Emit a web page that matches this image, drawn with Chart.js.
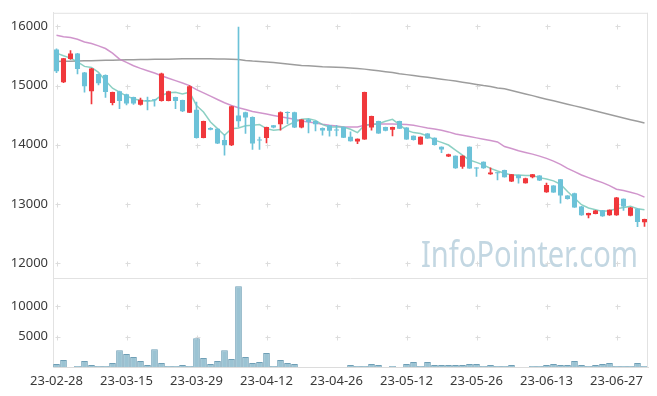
<!DOCTYPE html>
<html>
<head>
<meta charset="utf-8">
<script src="https://cdn.jsdelivr.net/npm/chart.js@4.4.0/dist/chart.umd.min.js"></script>
<style>
  html, body { margin: 0; padding: 0; background: #fff; }
  #wrap { width: 657px; height: 396px; }
</style>
</head>
<body>
<div id="wrap"><canvas id="stockChart"></canvas></div>
<script>
// trading days
const dates = [
  '23-02-28','23-03-02','23-03-03','23-03-06','23-03-07','23-03-08','23-03-09','23-03-10','23-03-13','23-03-14',
  '23-03-15','23-03-16','23-03-17','23-03-20','23-03-21','23-03-22','23-03-23','23-03-24','23-03-27','23-03-28',
  '23-03-29','23-03-30','23-03-31','23-04-03','23-04-04','23-04-05','23-04-06','23-04-07','23-04-10','23-04-11',
  '23-04-12','23-04-13','23-04-14','23-04-17','23-04-18','23-04-19','23-04-20','23-04-21','23-04-24','23-04-25',
  '23-04-26','23-04-27','23-04-28','23-05-02','23-05-03','23-05-04','23-05-08','23-05-09','23-05-10','23-05-11',
  '23-05-12','23-05-15','23-05-16','23-05-17','23-05-18','23-05-19','23-05-22','23-05-23','23-05-24','23-05-25',
  '23-05-26','23-05-30','23-05-31','23-06-01','23-06-02','23-06-05','23-06-07','23-06-08','23-06-09','23-06-12',
  '23-06-13','23-06-14','23-06-15','23-06-16','23-06-19','23-06-20','23-06-21','23-06-22','23-06-23','23-06-26',
  '23-06-27','23-06-28','23-06-29','23-06-30','23-07-03'
];

const openP = [
  15610,15055,15450,15540,15220,14905,15195,15180,14705,14905,
  14855,14805,14675,14750,14760,14740,14740,14805,14755,14540,
  14590,14115,14285,14270,14080,13990,14495,14550,14470,14075,
  14115,14330,14345,14550,14550,14290,14425,14400,14285,14330,
  14256,14300,14135,14055,14090,14290,14400,14300,14255,14400,
  14290,14150,14005,14190,14116,13965,13800,13814,13630,13965,
  13615,13713,13500,13530,13573,13377,13489,13350,13450,13478,
  13195,13310,13417,13142,13182,12958,12810,12830,12891,12810,
  12810,13086,12800,12919,12690
];
const highP = [
  15620,15460,15590,15545,15225,15290,15200,15180,14890,14905,
  14855,14805,14790,14805,14765,15210,14905,14805,14755,15000,
  14720,14400,14290,14270,14170,14655,15990,14550,14470,14130,
  14300,14330,14555,14555,14550,14425,14440,14400,14285,14330,
  14330,14300,14217,14100,14890,14485,14400,14300,14300,14400,
  14290,14150,14135,14190,14116,13965,13840,13814,13815,13965,
  13615,13713,13610,13530,13573,13500,13489,13435,13500,13478,
  13350,13310,13417,13142,13182,12958,12845,12890,12891,12900,
  13110,13086,12940,12919,12745
];
const lowP = [
  15220,15050,15440,15195,14890,14690,15010,14800,14675,14610,
  14675,14680,14670,14590,14650,14735,14740,14610,14560,14540,
  14110,14115,14250,14020,13825,13985,14300,14190,13920,13920,
  14030,14285,14245,14355,14290,14285,14200,14235,14160,14145,
  14150,14120,14060,14020,14088,14245,14190,14233,14150,14270,
  14088,14077,14004,14105,13993,13864,13797,13601,13600,13600,
  13465,13601,13500,13405,13450,13377,13349,13349,13440,13394,
  13193,13193,13014,13081,12941,12807,12765,12830,12790,12807,
  12807,12891,12796,12617,12620
];
const closeP = [
  15240,15460,15540,15280,14990,15290,15040,14890,14890,14740,
  14695,14695,14760,14740,14750,15205,14905,14740,14565,14990,
  14115,14400,14255,14020,13990,14650,14395,14460,14020,14070,
  14300,14290,14550,14535,14290,14425,14385,14345,14240,14235,
  14240,14120,14060,14100,14890,14485,14190,14235,14300,14270,
  14090,14080,14135,14105,13995,13920,13840,13601,13815,13600,
  13600,13601,13532,13517,13450,13500,13433,13435,13500,13394,
  13320,13193,13142,13081,12941,12807,12845,12890,12790,12900,
  13110,12958,12940,12695,12745
];

const volume = [
  490,1140,0,160,980,330,160,160,650,2770,
  2120,1630,980,330,2930,650,160,160,330,160,
  4720,1470,490,980,2770,1300,13250,1630,650,815,
  2280,160,1140,650,490,0,0,0,0,0,
  0,0,330,160,160,490,330,0,160,0,
  490,815,160,815,330,330,330,330,330,490,
  490,160,330,160,160,330,0,0,160,160,
  330,490,330,330,980,330,160,330,490,650,
  160,160,160,650,160
];

// moving averages
const ma5 = [
  15548,15503,15464,15402,15324,15307,15223,15083,14955,14888,
  14821,14776,14748,14737,14748,14832,14877,14888,14860,14888,
  14664,14552,14384,14272,14161,14272,14284,14322,14328,14340,
  14272,14244,14256,14328,14384,14429,14440,14412,14340,14300,
  14300,14300,14261,14205,14328,14340,14356,14396,14429,14340,
  14244,14205,14189,14149,14077,14040,13995,13909,13825,13741,
  13702,13657,13601,13556,13517,13489,13489,13478,13478,13444,
  13422,13389,13333,13210,13098,12986,12930,12902,12874,12885,
  12919,12941,12958,12919,12902
];
const ma20 = [
  15850,15827,15811,15783,15738,15710,15671,15626,15548,15447,
  15391,15335,15290,15251,15212,15167,15123,15083,15044,14999,
  14932,14877,14821,14765,14709,14664,14625,14597,14563,14541,
  14519,14496,14474,14451,14429,14401,14384,14368,14345,14328,
  14317,14300,14300,14300,14328,14345,14351,14351,14351,14345,
  14340,14328,14306,14284,14267,14244,14217,14183,14160,14138,
  14116,14093,14071,14048,13970,13937,13897,13869,13841,13808,
  13769,13724,13668,13601,13545,13489,13444,13400,13360,13310,
  13249,13226,13198,13165,13114
];
const ma60 = [
  15408,15410,15413,15415,15418,15420,15423,15426,15429,15432,
  15435,15437,15439,15441,15443,15445,15447,15450,15452,15455,
  15455,15455,15453,15450,15448,15445,15440,15425,15415,15408,
  15400,15390,15378,15365,15352,15340,15335,15328,15320,15315,
  15310,15305,15298,15290,15278,15265,15250,15235,15220,15200,
  15185,15170,15155,15140,15125,15108,15092,15076,15058,15040,
  15020,15000,14985,14960,14945,14915,14887,14858,14830,14800,
  14770,14742,14714,14686,14657,14628,14599,14570,14540,14510,
  14482,14453,14424,14396,14367
];

const priceTicks = [12000, 13000, 14000, 15000, 16000];
const volumeTicks = [5000, 10000];

const UP = '#f0383c';
const DOWN = '#6cc2d8';
const candleColors = closeP.map((c, i) => c >= openP[i] ? UP : DOWN);

// kleine Kreuze als Gitter, Rahmen und Wasserzeichen
const panelPlugin = {
    id: 'panel',
    beforeDatasetsDraw(chart) {
        const c = chart.ctx;
        const x = chart.scales.x, y = chart.scales.y, yv = chart.scales.yv;
        c.save();
        c.strokeStyle = '#dcdcdc';
        c.lineWidth = 1;
        const cross = (px, py) => {
            px = Math.round(px) + 0.5; py = Math.round(py) + 0.5;
            c.beginPath();
            c.moveTo(px - 2, py); c.lineTo(px + 3, py);
            c.moveTo(px, py - 2); c.lineTo(px, py + 3);
            c.stroke();
        };
        for (let i = 0; i < dates.length; i += 10) {
            const px = x.getPixelForValue(i);
            priceTicks.forEach(t => cross(px, y.getPixelForValue(t)));
            volumeTicks.forEach(t => cross(px, yv.getPixelForValue(t)));
        }
        // watermark
        c.font = '36px "Noto Sans"';
        c.fillStyle = '#c3d7e2';
        c.textBaseline = 'alphabetic';
        const txt = 'InfoPointer.com';
        const w = c.measureText(txt).width;
        c.translate(421, 267);
        c.scale(217 / w, 1);
        c.fillText(txt, 0, 0);
        c.restore();
    },
    afterDraw(chart) {
        const c = chart.ctx;
        const a = chart.chartArea;
        const yv = chart.scales.yv;
        c.save();
        c.strokeStyle = '#e2e2e2';
        c.lineWidth = 1;
        c.beginPath();
        c.moveTo(a.left, a.top + 0.5); c.lineTo(a.right, a.top + 0.5);
        c.moveTo(a.right - 0.5, a.top); c.lineTo(a.right - 0.5, a.bottom);
        c.moveTo(a.left, Math.round(yv.top) + 0.5); c.lineTo(a.right, Math.round(yv.top) + 0.5);
        c.stroke();
        c.restore();
    }
};

const tickFont = { family: '"Noto Sans", sans-serif', size: 13 };

const ctx = document.getElementById('stockChart').getContext('2d');
new Chart(ctx, {
    type: 'bar',
    data: {
        labels: dates,
        datasets: [
            {
                type: 'line', label: 'MA5', data: ma5, yAxisID: 'y',
                borderColor: 'rgba(120,200,185,0.85)', borderWidth: 1.5, pointRadius: 0, order: 5
            },
            {
                type: 'line', label: 'MA20', data: ma20, yAxisID: 'y',
                borderColor: 'rgba(200,130,195,0.85)', borderWidth: 1.5, pointRadius: 0, order: 6
            },
            {
                type: 'line', label: 'MA60', data: ma60, yAxisID: 'y',
                borderColor: 'rgba(140,140,140,0.85)', borderWidth: 1.5, pointRadius: 0, order: 7
            },
            {
                label: 'wick', yAxisID: 'y',
                data: lowP.map((l, i) => [l, highP[i]]),
                backgroundColor: candleColors, barThickness: 1, grouped: false, order: 2
            },
            {
                label: 'body', yAxisID: 'y',
                data: openP.map((o, i) => [o, closeP[i]]),
                backgroundColor: candleColors, barPercentage: 0.72, categoryPercentage: 1,
                minBarLength: 1, grouped: false, order: 1
            },
            {
                label: 'volume', yAxisID: 'yv',
                data: volume,
                backgroundColor: 'rgba(130,180,200,0.8)', borderColor: '#6f9fb6', borderWidth: 1,
                barPercentage: 0.95, categoryPercentage: 1, grouped: false, order: 3
            }
        ]
    },
    options: {
        responsive: true,
        maintainAspectRatio: false,
        animation: false,
        layout: { padding: { top: 10, right: 9, left: 0, bottom: 0 } },
        plugins: { legend: { display: false }, tooltip: { enabled: false } },
        scales: {
            x: {
                grid: { display: false, drawTicks: false },
                border: { color: '#dcdcdc' },
                ticks: {
                    autoSkip: false, maxRotation: 0, padding: 6,
                    color: '#3a3a3a', font: tickFont,
                    callback: function(v, i) { return i % 10 === 0 ? dates[i] : null; }
                },
                afterFit: s => { s.height = 29; }
            },
            y: {
                position: 'left', stack: 'panel', stackWeight: 3, weight: 2,
                min: 11740, max: 16230,
                grid: { display: false, drawTicks: false },
                border: { color: '#e2e2e2' },
                ticks: {
                    autoSkip: false, padding: 5, color: '#3a3a3a', font: tickFont,
                    callback: v => String(v)
                },
                afterBuildTicks: s => { s.ticks = priceTicks.map(v => ({ value: v })); },
                afterFit: s => { s.width = 53; }
            },
            yv: {
                position: 'left', stack: 'panel', stackWeight: 1, weight: 1,
                min: 0, max: 14550,
                grid: { display: false, drawTicks: false },
                border: { color: '#e2e2e2' },
                ticks: {
                    autoSkip: false, padding: 5, color: '#3a3a3a', font: tickFont,
                    callback: v => String(v)
                },
                afterBuildTicks: s => { s.ticks = volumeTicks.map(v => ({ value: v })); },
                afterFit: s => { s.width = 53; }
            }
        }
    },
    plugins: [panelPlugin]
});
</script>
</body>
</html>
